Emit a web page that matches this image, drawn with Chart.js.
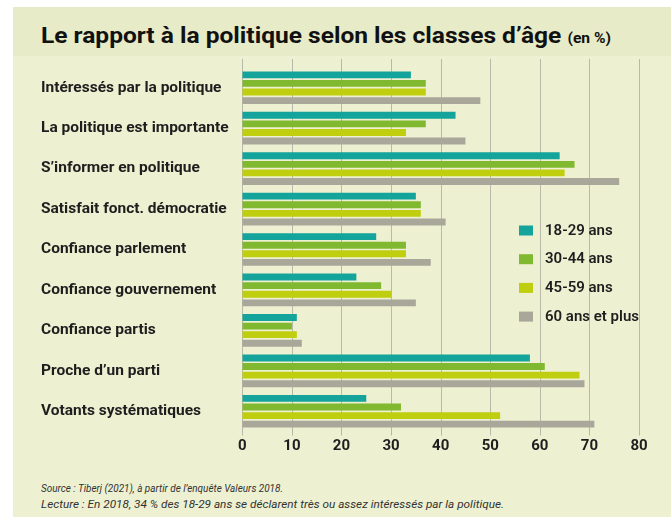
<!DOCTYPE html>
<html><head><meta charset="utf-8">
<script src="https://cdn.jsdelivr.net/npm/chart.js@4"></script>
<style>
html,body{margin:0;padding:0;background:#fff;}
#wrap{position:relative;width:671px;height:517px;overflow:hidden;background:#fff;}
#bg{position:absolute;left:13px;top:7px;right:0;bottom:0;background:#EDF0D1;}
#band{position:absolute;left:13px;top:7px;right:0;height:49px;background:#E7EBC7;}
#title{position:absolute;left:41px;top:23px;font-family:Roboto,sans-serif;font-weight:700;font-size:22px;line-height:26px;color:#111;white-space:nowrap;transform-origin:0 0;}
#title small{font-size:14px;}
.foot{position:absolute;left:41px;font-family:Roboto,sans-serif;font-style:italic;font-size:11px;line-height:13px;color:#333;white-space:nowrap;transform-origin:0 0;}
#c{position:absolute;left:0;top:0;}
</style></head>
<body>
<div id="wrap">
<div id="bg"></div><div id="band"></div>
<div id="title">Le rapport à la politique selon les classes d’âge <small>(en %)</small></div>
<div class="foot" id="f1" style="top:482px">Source : Tiberj (2021), à partir de l’enquête Valeurs 2018.</div>
<div class="foot" id="f2" style="top:498px">Lecture : En 2018, 34 % des 18-29 ans se déclarent très ou assez intéressés par la politique.</div>
<canvas id="c" width="671" height="517"></canvas>
</div>
<script>
const categories = [
  "Intéressés par la politique",
  "La politique est importante",
  "S’informer en politique",
  "Satisfait fonct. démocratie",
  "Confiance parlement",
  "Confiance gouvernement",
  "Confiance partis",
  "Proche d’un parti",
  "Votants systématiques"
];
const seriesLabels = ["18-29 ans", "30-44 ans", "45-59 ans", "60 ans et plus"];
const age18_29 = [34, 43, 64, 35, 27, 23, 11, 58, 25];
const age30_44 = [37, 37, 67, 36, 33, 28, 10, 61, 32];
const age45_59 = [37, 33, 65, 36, 33, 30, 11, 68, 52];
const age60plus = [48, 45, 76, 41, 38, 35, 12, 69, 71];
const xTickValues = [0, 10, 20, 30, 40, 50, 60, 70, 80];
const seriesColors = ["#14A49B", "#80B82F", "#BFCE0E", "#A9A799"];

function fitWidth(el, target) {
  const w = el.getBoundingClientRect().width;
  el.style.transform = "scaleX(" + (target / w) + ")";
}
fitWidth(document.getElementById("title"), 570);
fitWidth(document.getElementById("f1"), 242);
fitWidth(document.getElementById("f2"), 463);

const gridPlugin = {
  id: "gridExt",
  beforeDatasetsDraw(chart) {
    const ctx = chart.ctx, xs = chart.scales.x, ca = chart.chartArea;
    ctx.save();
    ctx.strokeStyle = "#B9B9A9";
    ctx.lineWidth = 1;
    xs.ticks.forEach(t => {
      const x = Math.round(xs.getPixelForValue(t.value)) + 0.5;
      ctx.beginPath();
      ctx.moveTo(x, 59);
      ctx.lineTo(x, ca.bottom + 4);
      ctx.stroke();
    });
    ctx.restore();
  }
};
const legendPlugin = {
  id: "customLegend",
  afterDraw(chart) {
    const ctx = chart.ctx;
    ctx.save();
    chart.data.datasets.forEach((ds, i) => {
      const y = 230.5 + i * 28.7;
      ctx.fillStyle = ds.backgroundColor;
      ctx.fillRect(519, y - 5, 14, 10);
      ctx.fillStyle = "#1E1E1E";
      ctx.font = "600 15px Roboto";
      ctx.textBaseline = "middle";
      ctx.textAlign = "left";
      ctx.fillText(ds.label, 545, y + 0.5);
    });
    ctx.restore();
  }
};

const datasets = [age18_29, age30_44, age45_59, age60plus].map((d, i) => ({
  label: seriesLabels[i],
  data: d,
  backgroundColor: seriesColors[i],
  borderWidth: 0,
  barPercentage: 0.8,
  categoryPercentage: 0.85
}));

new Chart(document.getElementById("c"), {
  type: "bar",
  data: { labels: categories, datasets },
  options: {
    indexAxis: "y",
    responsive: false,
    animation: false,
    layout: { padding: { left: 41, top: 67.5, right: 32, bottom: 55.5 } },
    plugins: { legend: { display: false }, tooltip: { enabled: false } },
    scales: {
      x: {
        min: 0, max: 80,
        afterBuildTicks: s => { s.ticks = xTickValues.map(v => ({ value: v })); },
        grid: { display: false, drawTicks: false },
        border: { display: false },
        ticks: { font: { family: "Roboto", weight: "bold", size: 15 }, color: "#1E1E1E", padding: 6 }
      },
      y: {
        grid: { display: false, drawTicks: false },
        border: { display: false },
        afterFit: s => { s.width = 201.3; },
        ticks: { crossAlign: "far", font: { family: "Roboto", weight: "bold", size: 15.5 }, color: "#1E1E1E", padding: 0 }
      }
    }
  },
  plugins: [gridPlugin, legendPlugin]
});
</script>
</body></html>
